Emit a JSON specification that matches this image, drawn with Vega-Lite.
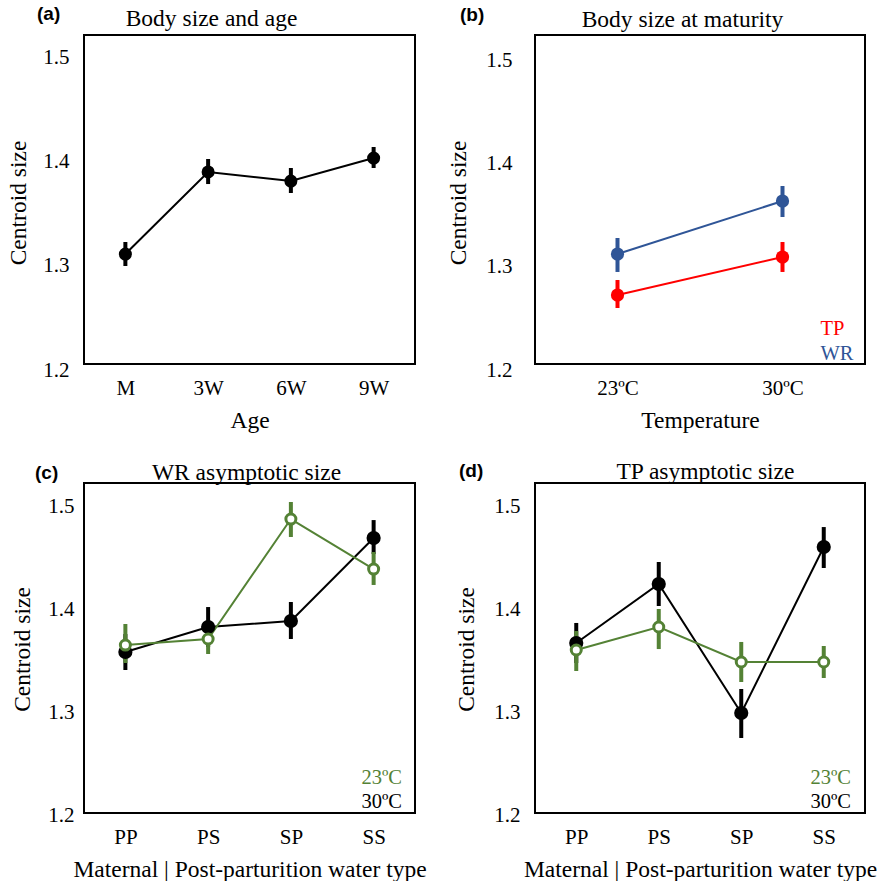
{
  "$schema": "https://vega.github.io/schema/vega-lite/v6.json",
  "background": "white",
  "padding": {"left": 5, "top": 4, "right": 0, "bottom": 0},
  "columns": 2,
  "bounds": "flush",
  "spacing": {"row": 119, "column": 120},
  "resolve": {"scale": {"color": "independent", "fill": "independent", "stroke": "independent", "size": "independent"}, "legend": {"color": "independent"}},
  "datasets": {
    "a": [
      {"age": "M", "v": 1.3115, "lo": 1.3000, "hi": 1.3231},
      {"age": "3W", "v": 1.3904, "lo": 1.3788, "hi": 1.4029},
      {"age": "6W", "v": 1.3817, "lo": 1.3702, "hi": 1.3942},
      {"age": "9W", "v": 1.4038, "lo": 1.3942, "hi": 1.4144}
    ],
    "b": [
      {"sp": "WR", "temp": "23ºC", "v": 1.3123, "lo": 1.2949, "hi": 1.3278},
      {"sp": "WR", "temp": "30ºC", "v": 1.3636, "lo": 1.3481, "hi": 1.3781},
      {"sp": "TP", "temp": "23ºC", "v": 1.2726, "lo": 1.2600, "hi": 1.2871},
      {"sp": "TP", "temp": "30ºC", "v": 1.3094, "lo": 1.2949, "hi": 1.3239}
    ],
    "c": [
      {"temp": "30ºC", "grp": "PP", "v": 1.3587, "lo": 1.3412, "hi": 1.3762},
      {"temp": "30ºC", "grp": "PS", "v": 1.3831, "lo": 1.3636, "hi": 1.4025},
      {"temp": "30ºC", "grp": "SP", "v": 1.3889, "lo": 1.3714, "hi": 1.4074},
      {"temp": "30ºC", "grp": "SS", "v": 1.4697, "lo": 1.4541, "hi": 1.4872},
      {"temp": "23ºC", "grp": "PP", "v": 1.3655, "lo": 1.3480, "hi": 1.3860},
      {"temp": "23ºC", "grp": "PS", "v": 1.3714, "lo": 1.3568, "hi": 1.3870},
      {"temp": "23ºC", "grp": "SP", "v": 1.4882, "lo": 1.4707, "hi": 1.5048},
      {"temp": "23ºC", "grp": "SS", "v": 1.4395, "lo": 1.4240, "hi": 1.4561}
    ],
    "d": [
      {"temp": "30ºC", "grp": "PP", "v": 1.3675, "lo": 1.3480, "hi": 1.3870},
      {"temp": "30ºC", "grp": "PS", "v": 1.4249, "lo": 1.4035, "hi": 1.4464},
      {"temp": "30ºC", "grp": "SP", "v": 1.2993, "lo": 1.2750, "hi": 1.3227},
      {"temp": "30ºC", "grp": "SS", "v": 1.4610, "lo": 1.4405, "hi": 1.4804},
      {"temp": "23ºC", "grp": "PP", "v": 1.3607, "lo": 1.3402, "hi": 1.3792},
      {"temp": "23ºC", "grp": "PS", "v": 1.3831, "lo": 1.3616, "hi": 1.4006},
      {"temp": "23ºC", "grp": "SP", "v": 1.3490, "lo": 1.3295, "hi": 1.3685},
      {"temp": "23ºC", "grp": "SS", "v": 1.3490, "lo": 1.3334, "hi": 1.3646}
    ]
  },
  "concat": [
    {
      "width": 331, "height": 329,
      "title": {"text": "(a)", "dx": -47, "dy": 22},
      "data": {"name": "a"},
      "resolve": {"axis": {"x": "independent"}},
      "layer": [
        {
          "mark": {"type": "line", "color": "black", "strokeWidth": 2},
          "encoding": {
            "x": {"field": "age", "type": "ordinal", "sort": ["M", "3W", "6W", "9W"], "scale": {"type": "point", "padding": 0.5}, "axis": {"title": "Age", "titleFont": "Liberation Serif"}},
            "y": {"field": "v", "type": "quantitative", "scale": {"domain": [1.2, 1.5221], "range": [335, 0], "nice": false, "zero": false},
                  "axis": {"title": "Centroid size", "titleFont": "Liberation Serif", "values": [1.2, 1.3, 1.4, 1.5], "format": ".1f", "labelPadding": 15, "titlePadding": 12}}
          }
        },
        {
          "mark": {"type": "rule", "color": "black", "strokeWidth": 4},
          "encoding": {
            "x": {"field": "age", "type": "ordinal", "sort": ["M", "3W", "6W", "9W"], "scale": {"type": "point", "padding": 0.5},
                  "axis": {"orient": "top", "title": "Body size and age", "titleFont": "Liberation Serif", "labels": false, "titleX": 127, "titleY": -10, "titleBaseline": "alphabetic", "titleAlign": "center"}},
            "y": {"field": "lo", "type": "quantitative", "title": "Centroid size", "scale": {"domain": [1.2, 1.5221], "range": [335, 0], "nice": false, "zero": false}},
            "y2": {"field": "hi"}
          }
        },
        {
          "mark": {"type": "circle", "color": "black", "size": 170, "opacity": 1},
          "encoding": {
            "x": {"field": "age", "type": "ordinal", "sort": ["M", "3W", "6W", "9W"], "scale": {"type": "point", "padding": 0.5}, "axis": null},
            "y": {"field": "v", "type": "quantitative", "title": "Centroid size", "scale": {"domain": [1.2, 1.5221], "range": [335, 0], "nice": false, "zero": false}}
          }
        }
      ]
    },
    {
      "width": 330, "height": 329,
      "title": {"text": "(b)", "dx": -75, "dy": 22},
      "data": {"name": "b"},
      "resolve": {"axis": {"x": "independent"}},
      "layer": [
        {
          "mark": {"type": "line", "strokeWidth": 2},
          "encoding": {
            "x": {"field": "temp", "type": "ordinal", "sort": ["23ºC", "30ºC"], "scale": {"type": "point", "padding": 0.5}, "axis": {"title": "Temperature", "titleFont": "Liberation Serif"}},
            "y": {"field": "v", "type": "quantitative", "scale": {"domain": [1.2, 1.5243], "range": [335, 0], "nice": false, "zero": false},
                  "axis": {"title": "Centroid size", "titleFont": "Liberation Serif", "values": [1.2, 1.3, 1.4, 1.5], "format": ".1f", "labelPadding": 23, "titlePadding": 15}},
            "color": {"field": "sp", "type": "nominal", "scale": {"domain": ["TP", "WR"], "range": ["#FF0000", "#2F5597"]},
                      "legend": {"title": null, "orient": "none", "legendX": 265, "legendY": 284, "padding": 0, "symbolOpacity": 0, "symbolSize": 0, "symbolStrokeWidth": 0, "labelOffset": 0,
                                 "labelFont": "Liberation Serif", "labelFontSize": 20.5, "rowPadding": 4,
                                 "encode": {"labels": {"update": {"fill": {"signal": "datum.value === 'TP' ? '#FF0000' : '#2F5597'"}}}}}}
          }
        },
        {
          "mark": {"type": "rule", "strokeWidth": 4},
          "encoding": {
            "x": {"field": "temp", "type": "ordinal", "sort": ["23ºC", "30ºC"], "scale": {"type": "point", "padding": 0.5},
                  "axis": {"orient": "top", "title": "Body size at maturity", "titleFont": "Liberation Serif", "labels": false, "titleX": 147, "titleY": -9, "titleBaseline": "alphabetic", "titleAlign": "center"}},
            "y": {"field": "lo", "type": "quantitative", "title": "Centroid size", "scale": {"domain": [1.2, 1.5243], "range": [335, 0], "nice": false, "zero": false}},
            "y2": {"field": "hi"},
            "color": {"field": "sp", "type": "nominal", "scale": {"domain": ["TP", "WR"], "range": ["#FF0000", "#2F5597"]}}
          }
        },
        {
          "mark": {"type": "circle", "size": 175, "opacity": 1},
          "encoding": {
            "x": {"field": "temp", "type": "ordinal", "sort": ["23ºC", "30ºC"], "scale": {"type": "point", "padding": 0.5}, "axis": null},
            "y": {"field": "v", "type": "quantitative", "title": "Centroid size", "scale": {"domain": [1.2, 1.5243], "range": [335, 0], "nice": false, "zero": false}},
            "color": {"field": "sp", "type": "nominal", "scale": {"domain": ["TP", "WR"], "range": ["#FF0000", "#2F5597"]}}
          }
        }
      ]
    },
    {
      "width": 331, "height": 330,
      "title": {"text": "(c)", "dx": -49, "dy": 27},
      "data": {"name": "c"},
      "resolve": {"axis": {"x": "independent"}},
      "layer": [
        {
          "mark": {"type": "line", "strokeWidth": 2},
          "encoding": {
            "x": {"field": "grp", "type": "ordinal", "sort": ["PP", "PS", "SP", "SS"], "scale": {"type": "point", "padding": 0.5}, "axis": {"title": "Maternal | Post-parturition water type", "titleFont": "Liberation Serif"}},
            "y": {"field": "v", "type": "quantitative", "scale": {"domain": [1.2, 1.5233], "range": [332, 0], "nice": false, "zero": false},
                  "axis": {"title": "Centroid size", "titleFont": "Liberation Serif", "values": [1.2, 1.3, 1.4, 1.5], "format": ".1f", "labelPadding": 10, "titlePadding": 13}},
            "color": {"field": "temp", "type": "nominal", "scale": {"domain": ["23ºC", "30ºC"], "range": ["#548235", "#000000"]},
                      "legend": {"title": null, "orient": "none", "legendX": 257, "legendY": 285, "padding": 0, "symbolOpacity": 0, "symbolSize": 0, "symbolStrokeWidth": 0, "labelOffset": 0,
                                 "labelFont": "Liberation Serif", "labelFontSize": 20.5, "rowPadding": 3,
                                 "encode": {"labels": {"update": {"fill": {"signal": "datum.value === '23ºC' ? '#548235' : '#000000'"}}}}}}
          }
        },
        {
          "mark": {"type": "rule", "strokeWidth": 4},
          "encoding": {
            "x": {"field": "grp", "type": "ordinal", "sort": ["PP", "PS", "SP", "SS"], "scale": {"type": "point", "padding": 0.5},
                  "axis": {"orient": "top", "title": "WR asymptotic size", "titleFont": "Liberation Serif", "labels": false, "titleX": 162, "titleY": -4, "titleBaseline": "alphabetic", "titleAlign": "center"}},
            "y": {"field": "lo", "type": "quantitative", "title": "Centroid size", "scale": {"domain": [1.2, 1.5233], "range": [332, 0], "nice": false, "zero": false}},
            "y2": {"field": "hi"},
            "color": {"field": "temp", "type": "nominal", "scale": {"domain": ["23ºC", "30ºC"], "range": ["#548235", "#000000"]}}
          }
        },
        {
          "mark": {"type": "circle", "strokeWidth": 3, "opacity": 1},
          "encoding": {
            "x": {"field": "grp", "type": "ordinal", "sort": ["PP", "PS", "SP", "SS"], "scale": {"type": "point", "padding": 0.5}, "axis": null},
            "y": {"field": "v", "type": "quantitative", "title": "Centroid size", "scale": {"domain": [1.2, 1.5233], "range": [332, 0], "nice": false, "zero": false}},
            "fill": {"field": "temp", "type": "nominal", "scale": {"domain": ["23ºC", "30ºC"], "range": ["#FFFFFF", "#000000"]}, "legend": null},
            "stroke": {"field": "temp", "type": "nominal", "scale": {"domain": ["23ºC", "30ºC"], "range": ["#548235", "#000000"]}, "legend": null},
            "size": {"field": "temp", "type": "nominal", "scale": {"domain": ["23ºC", "30ºC"], "range": [100, 125]}, "legend": null}
          }
        }
      ]
    },
    {
      "width": 330, "height": 330,
      "title": {"text": "(d)", "dx": -76, "dy": 26},
      "data": {"name": "d"},
      "resolve": {"axis": {"x": "independent"}},
      "layer": [
        {
          "mark": {"type": "line", "strokeWidth": 2},
          "encoding": {
            "x": {"field": "grp", "type": "ordinal", "sort": ["PP", "PS", "SP", "SS"], "scale": {"type": "point", "padding": 0.5}, "axis": {"title": "Maternal | Post-parturition water type", "titleFont": "Liberation Serif"}},
            "y": {"field": "v", "type": "quantitative", "scale": {"domain": [1.2, 1.5233], "range": [332, 0], "nice": false, "zero": false},
                  "axis": {"title": "Centroid size", "titleFont": "Liberation Serif", "values": [1.2, 1.3, 1.4, 1.5], "format": ".1f", "labelPadding": 15, "titlePadding": 15}},
            "color": {"field": "temp", "type": "nominal", "scale": {"domain": ["23ºC", "30ºC"], "range": ["#548235", "#000000"]},
                      "legend": {"title": null, "orient": "none", "legendX": 255, "legendY": 285, "padding": 0, "symbolOpacity": 0, "symbolSize": 0, "symbolStrokeWidth": 0, "labelOffset": 0,
                                 "labelFont": "Liberation Serif", "labelFontSize": 20.5, "rowPadding": 3,
                                 "encode": {"labels": {"update": {"fill": {"signal": "datum.value === '23ºC' ? '#548235' : '#000000'"}}}}}}
          }
        },
        {
          "mark": {"type": "rule", "strokeWidth": 4},
          "encoding": {
            "x": {"field": "grp", "type": "ordinal", "sort": ["PP", "PS", "SP", "SS"], "scale": {"type": "point", "padding": 0.5},
                  "axis": {"orient": "top", "title": "TP asymptotic size", "titleFont": "Liberation Serif", "labels": false, "titleX": 170, "titleY": -5, "titleBaseline": "alphabetic", "titleAlign": "center"}},
            "y": {"field": "lo", "type": "quantitative", "title": "Centroid size", "scale": {"domain": [1.2, 1.5233], "range": [332, 0], "nice": false, "zero": false}},
            "y2": {"field": "hi"},
            "color": {"field": "temp", "type": "nominal", "scale": {"domain": ["23ºC", "30ºC"], "range": ["#548235", "#000000"]}}
          }
        },
        {
          "mark": {"type": "circle", "strokeWidth": 3, "opacity": 1},
          "encoding": {
            "x": {"field": "grp", "type": "ordinal", "sort": ["PP", "PS", "SP", "SS"], "scale": {"type": "point", "padding": 0.5}, "axis": null},
            "y": {"field": "v", "type": "quantitative", "title": "Centroid size", "scale": {"domain": [1.2, 1.5233], "range": [332, 0], "nice": false, "zero": false}},
            "fill": {"field": "temp", "type": "nominal", "scale": {"domain": ["23ºC", "30ºC"], "range": ["#FFFFFF", "#000000"]}, "legend": null},
            "stroke": {"field": "temp", "type": "nominal", "scale": {"domain": ["23ºC", "30ºC"], "range": ["#548235", "#000000"]}, "legend": null},
            "size": {"field": "temp", "type": "nominal", "scale": {"domain": ["23ºC", "30ºC"], "range": [100, 125]}, "legend": null}
          }
        }
      ]
    }
  ],
  "config": {
    "font": "Liberation Serif",
    "view": {"stroke": "black", "strokeWidth": 2},
    "axis": {"grid": false, "ticks": false, "tickSize": 0, "domain": false,
             "labelFont": "Liberation Serif", "labelFontSize": 21, "labelColor": "black",
             "titleFont": "Liberation Serif", "titleFontSize": 23.5, "titleFontWeight": "normal", "titleColor": "black"},
    "axisX": {"labelAngle": 0, "labelPadding": 13, "titlePadding": 10},
    "title": {"font": "Liberation Sans", "fontWeight": "bold", "fontSize": 19, "anchor": "start", "frame": "group", "color": "black", "offset": 0}
  }
}
